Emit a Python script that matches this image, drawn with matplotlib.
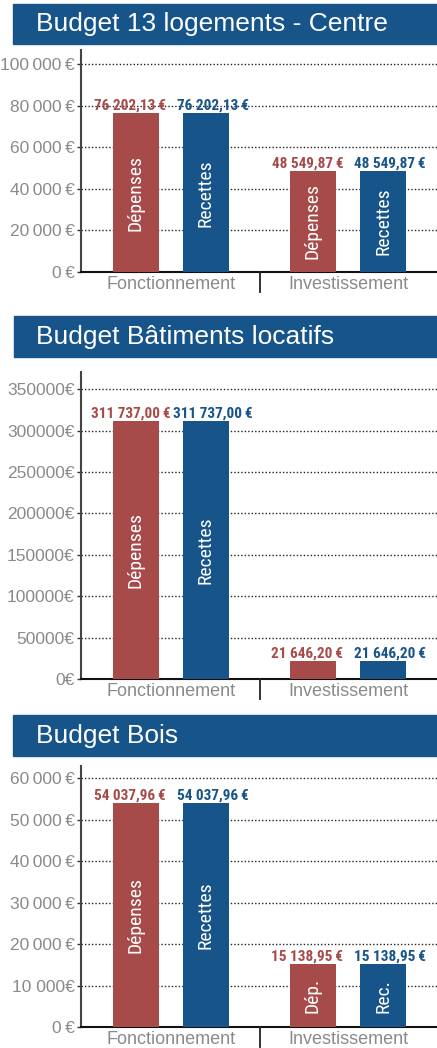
import matplotlib
matplotlib.use("Agg")
import matplotlib.pyplot as plt
from matplotlib.patches import Rectangle
from matplotlib.lines import Line2D
from matplotlib import font_manager as fm

# ---------------- data ----------------
titles = ["Budget 13 logements - Centre", "Budget Bâtiments locatifs", "Budget Bois"]
categories = ["Fonctionnement", "Investissement"]
depenses = [[76202.13, 48549.87], [311737.00, 21646.20], [54037.96, 15138.95]]
recettes = [[76202.13, 48549.87], [311737.00, 21646.20], [54037.96, 15138.95]]
bar_text_dep = [["Dépenses", "Dépenses"], ["Dépenses", ""], ["Dépenses", "Dép."]]
bar_text_rec = [["Recettes", "Recettes"], ["Recettes", ""], ["Recettes", "Rec."]]
y_ticks = [
    [0, 20000, 40000, 60000, 80000, 100000],
    [0, 50000, 100000, 150000, 200000, 250000, 300000, 350000],
    [0, 10000, 20000, 30000, 40000, 50000, 60000],
]
y_ticklabels = [
    ["0\u2009€", "20\u2009000\u2009€", "40\u2009000\u2009€", "60\u2009000\u2009€", "80\u2009000\u2009€", "100\u2009000\u2009€"],
    ["0€", "50000€", "100000€", "150000€", "200000€", "250000€", "300000€", "350000€"],
    ["0\u2009€", "10 000€", "20\u2009000\u2009€", "30\u2009000\u2009€", "40\u2009000\u2009€", "50\u2009000\u2009€", "60\u2009000\u2009€"],
]
y_max = [106700, 370800, 62900]

# ---------------- fonts ----------------
def static_family(cands, weight):
    for n in cands:
        for f in fm.fontManager.ttflist:
            if f.name == n and "[" not in f.fname and abs(int(f.weight) - weight) < 50 \
                    and "Italic" not in f.fname:
                return n
    return None

narrow_cands = ["Liberation Sans Narrow", "Arial Narrow", "Roboto Condensed", "PT Sans Narrow",
                "Fira Sans Condensed", "IBM Plex Sans Condensed", "Barlow Condensed",
                "Archivo Narrow", "Encode Sans Condensed", "Asap Condensed"]
NB = static_family(narrow_cands, 700)
NR = static_family(narrow_cands, 400)
NARROW_B = [NB, "Roboto", "DejaVu Sans"] if NB else ["Roboto", "DejaVu Sans"]
NARROW_R = [NR, "Roboto", "DejaVu Sans"] if NR else ["Roboto", "DejaVu Sans"]
vsize = 11 if NB else 9.5
bsize = 14 if NR else 12.5

# ---------------- style ----------------
RED = "#A64B49"
BLUE = "#16548A"
GRAY = "#8A8A8A"
W, H = 437, 1048
plt.rcParams["font.family"] = ["Liberation Sans", "DejaVu Sans"]

fig = plt.figure(figsize=(W / 100, H / 100), dpi=100)

# pixel layout: (banner_top, banner_bottom, banner_left, axes_top, axes_bottom)
layout = [(4, 44, 13, 50, 272), (316, 357, 14, 372, 679), (715, 756, 13, 766, 1027)]
ax_left_px = 81


def fx(px):
    return px / W


def fy(py):
    return 1 - py / H


def fmt(v):
    s = f"{v:,.2f}".replace(",", "X").replace(".", ",").replace("X", " ")
    return s + "\u2009€"


offset = 0.198
width = 0.26

for i in range(3):
    bt, bb, bl, at, ab = layout[i]
    fig.patches.append(Rectangle((fx(bl), fy(bb)), fx(W - bl), (bb - bt) / H,
                                 transform=fig.transFigure, color=BLUE, zorder=0))
    fig.text(fx(36), fy((bt + bb) / 2), titles[i], color="white", fontsize=19,
             va="center", ha="left")

    ax = fig.add_axes([fx(ax_left_px), fy(ab), fx(W - ax_left_px), (ab - at) / H])
    xs = list(range(len(categories)))
    xd = [x - offset for x in xs]
    xr = [x + offset for x in xs]
    ax.bar(xd, depenses[i], width=width, color=RED, zorder=3)
    ax.bar(xr, recettes[i], width=width, color=BLUE, zorder=3)
    ax.set_xlim(-0.508, 1.503)
    ax.set_ylim(0, y_max[i])
    ax.set_yticks(y_ticks[i])
    ax.set_yticklabels(y_ticklabels[i])
    ax.set_xticks(xs)
    ax.set_xticklabels(categories)
    ax.tick_params(axis="x", length=0, pad=3, labelsize=13, labelcolor=GRAY)
    ax.tick_params(axis="y", length=3, width=1, color="#333333", pad=1.5,
                   labelsize=12.5, labelcolor=GRAY)
    for sp in ["top", "right"]:
        ax.spines[sp].set_visible(False)
    ax.spines["left"].set_color("#444444")
    ax.spines["left"].set_linewidth(1.5)
    ax.spines["bottom"].set_color("#111111")
    ax.spines["bottom"].set_linewidth(1.5)
    ax.grid(axis="y", color="#222222", linestyle=(0, (1, 1.5)), linewidth=1, zorder=0)
    ax.set_axisbelow(True)

    for x, v in zip(xd, depenses[i]):
        ax.annotate(fmt(v), (x, v), xytext=(-4, 2.5), textcoords="offset points",
                    ha="center", va="baseline", color=RED, fontsize=vsize,
                    fontweight="bold", family=NARROW_B)
    for x, v in zip(xr, recettes[i]):
        ax.annotate(fmt(v), (x, v), xytext=(5, 2.5), textcoords="offset points",
                    ha="center", va="baseline", color=BLUE, fontsize=vsize,
                    fontweight="bold", family=NARROW_B)
    for x, v, t in zip(xd, depenses[i], bar_text_dep[i]):
        if t:
            ax.text(x, v / 2, t, rotation=90, ha="center", va="center",
                    color="white", fontsize=bsize, family=NARROW_R, zorder=4)
    for x, v, t in zip(xr, recettes[i], bar_text_rec[i]):
        if t:
            ax.text(x, v / 2, t, rotation=90, ha="center", va="center",
                    color="white", fontsize=bsize, family=NARROW_R, zorder=4)

    fig.lines.append(Line2D([fx(260), fx(260)], [fy(ab), fy(ab + 20)],
                            transform=fig.transFigure, color="#222222", lw=1.3))

fig.savefig("out.png", dpi=100)
